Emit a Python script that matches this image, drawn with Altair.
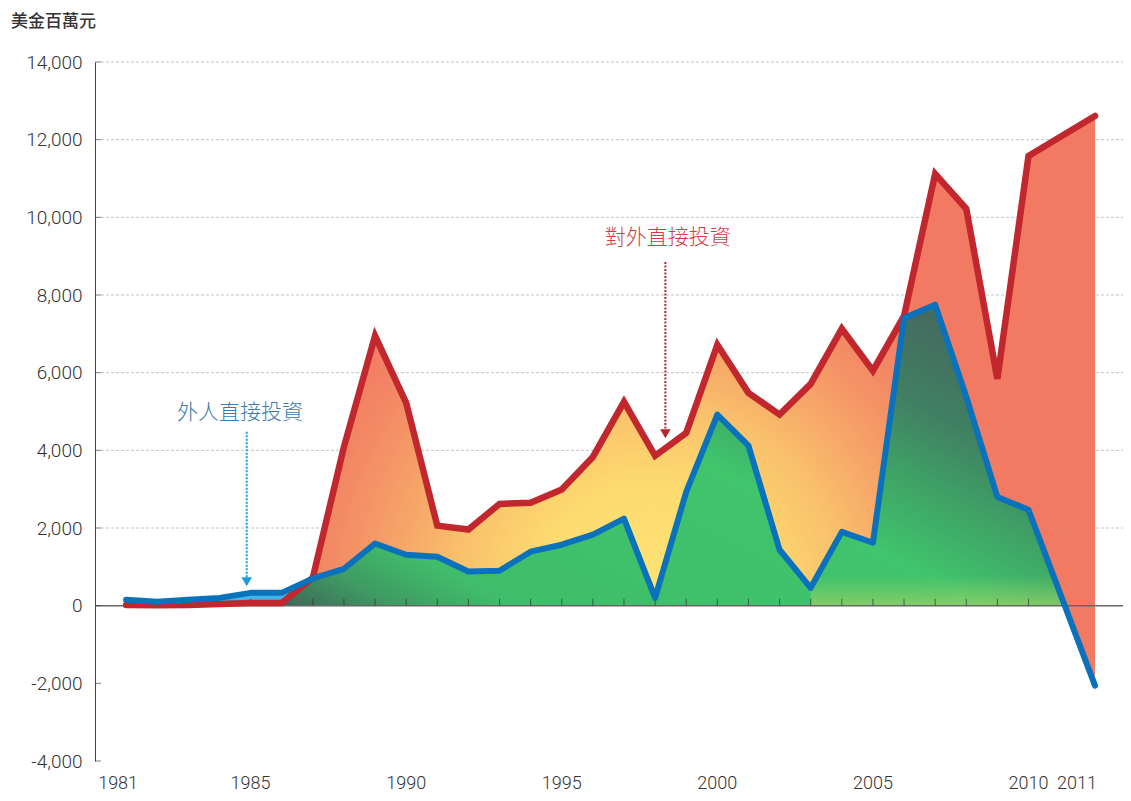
import altair as alt
import pandas as pd

# ---- data (US$ million) ----
years = list(range(1981, 2012))
outward = [20, 10, 20, 40, 70, 70, 720, 4090, 6950, 5220, 2060, 1960, 2620, 2650, 2990,
           3830, 5250, 3860, 4450, 6720, 5480, 4920, 5710, 7130, 6050, 7460, 11120,
           10220, 5840, 11580, 12610]
inward = [150, 100, 150, 200, 330, 330, 700, 950, 1600, 1310, 1260, 880, 900, 1390, 1570,
          1830, 2240, 200, 2930, 4920, 4120, 1440, 460, 1900, 1620, 7410, 7750, 5380,
          2800, 2470, -2060]
y_ticks = [-4000, -2000, 0, 2000, 4000, 6000, 8000, 10000, 12000, 14000]
grid_vals = [2000, 4000, 6000, 8000, 10000, 12000, 14000]
first_year = [1981]
x_label_years = [1985, 1990, 1995, 2000, 2005, 2010]
last_year = [2011]
unit_title = "美金百萬元"
label_in = "外人直接投資"
label_out = "對外直接投資"

CJK = "Noto Sans CJK TC"
NUMF = "Roboto"

df = pd.DataFrame({"year": years, "outward": outward, "inward": inward})
df["low"] = df[["outward", "inward"]].min(axis=1)
df["green_top"] = df["low"].clip(lower=0)
df["zero"] = 0

W, H = 1028, 699
xscale = alt.Scale(domain=[1980, 2010, 2011], range=[0, 933.5, 1000], nice=False, zero=False)
yscale = alt.Scale(domain=[-4000, 14000], nice=False, zero=False)

YAX = alt.Axis(values=y_ticks, grid=False, ticks=False, domain=True, domainColor="#444",
               domainWidth=1, labelFont=NUMF, labelFontWeight=300, labelFontSize=19,
               labelColor="#333", labelPadding=13, title=None,
               labelExpr="(datum.value < 0 ? '-' : '') + format(abs(datum.value), ',')")


def X(field="year"):
    return alt.X(f"{field}:Q", scale=xscale, axis=None)


def Y(field):
    return alt.Y(f"{field}:Q", scale=yscale, axis=YAX)


RED_GRAD = {
    "gradient": "radial",
    "x1": 0.54, "y1": 0.705, "r1": 0,
    "x2": 0.54, "y2": 0.705, "r2": 0.39,
    "stops": [
        {"offset": 0.0, "color": "#fee474"},
        {"offset": 0.3, "color": "#fddb70"},
        {"offset": 0.52, "color": "#f9c06b"},
        {"offset": 0.68, "color": "#f6a468"},
        {"offset": 0.85, "color": "#f38a65"},
        {"offset": 1.0, "color": "#f27a63"},
    ],
}

GREEN_GRAD = {
    "gradient": "linear",
    "x1": 0.1, "y1": 1.0, "x2": 1.1, "y2": 0.4,
    "stops": [
        {"offset": 0.0, "color": "#3a5a52"},
        {"offset": 0.05, "color": "#3d6a58"},
        {"offset": 0.13, "color": "#3f9a62"},
        {"offset": 0.22, "color": "#40bd6a"},
        {"offset": 0.58, "color": "#40c46c"},
        {"offset": 0.7, "color": "#3fa466"},
        {"offset": 0.82, "color": "#408062"},
        {"offset": 1.0, "color": "#466560"},
    ],
}

GLOW_GRAD = {
    "gradient": "linear",
    "x1": 0, "y1": 0, "x2": 0, "y2": 1,
    "stops": [
        {"offset": 0.0, "color": "rgba(170,212,100,0)"},
        {"offset": 0.9, "color": "rgba(170,212,100,0)"},
        {"offset": 1.0, "color": "rgba(175,210,100,0.6)"},
    ],
}

base = alt.Chart(df)

grid = alt.Chart(pd.DataFrame({"v": grid_vals})).mark_rule(
    color="#c4c4c4", strokeDash=[3, 2], strokeWidth=1
).encode(y=Y("v"), x=alt.value(6), x2=alt.value(W))

green = base.mark_area(color=GREEN_GRAD).encode(x=X(), y=Y("green_top"), y2=alt.Y2("zero"))
glow = base.transform_filter("datum.year >= 2003").mark_area(color=GLOW_GRAD).encode(
    x=X(), y=Y("green_top"), y2=alt.Y2("zero"))
cyan = base.mark_area(color="#3fb6e8").encode(x=X(), y=Y("inward"), y2=alt.Y2("low"))
red = base.mark_area(color=RED_GRAD).encode(x=X(), y=Y("outward"), y2=alt.Y2("low"))

zero_df = pd.DataFrame({"v": [0]})
zero_line = alt.Chart(zero_df).mark_rule(color="#666666", strokeWidth=1.5).encode(
    y=Y("v"), x=alt.value(0), x2=alt.value(W)
)

tick_df = pd.DataFrame({"year": years[:-1], "zero": 0})
xticks = alt.Chart(tick_df).mark_tick(orient="vertical", size=7, thickness=1, color="#333",
                                      yOffset=-3.5).encode(x=X(), y=Y("zero"))
last_tick = alt.Chart(pd.DataFrame({"year": last_year, "zero": 0})).mark_tick(
    orient="vertical", size=7, thickness=1, color="#333", yOffset=-3.5, xOffset=-32
).encode(x=X(), y=Y("zero"))

ytick_df = pd.DataFrame({"v": y_ticks})
yticks = alt.Chart(ytick_df).mark_tick(orient="horizontal", size=6, thickness=1, color="#444").encode(
    y=Y("v"), x=alt.value(3)
)

red_line = base.mark_line(color="#c1272d", strokeWidth=6.5, strokeCap="round",
                          strokeJoin="miter").encode(x=X(), y=Y("outward"))
blue_line = base.mark_line(color="#0a72bd", strokeWidth=6, strokeCap="round",
                           strokeJoin="round").encode(x=X(), y=Y("inward"))

# annotations
ann_in = pd.DataFrame({"x": [1984.875], "y0": [4478], "y1": [720], "tip": [617]})
ann_out = pd.DataFrame({"x": [1998.33], "y0": [8853], "y1": [4530], "tip": [4426]})

arrow_in = alt.Chart(ann_in).mark_rule(color="#1b9be0", strokeWidth=2, strokeDash=[2, 1.5]).encode(
    x=X("x"), y=Y("y0"), y2=alt.Y2("y1"))
head_in = alt.Chart(ann_in).mark_point(shape="triangle-down", filled=True, size=110,
                                       color="#1b9be0", opacity=1).encode(x=X("x"), y=Y("tip"))
arrow_out = alt.Chart(ann_out).mark_rule(color="#b5262d", strokeWidth=2, strokeDash=[2, 1.5]).encode(
    x=X("x"), y=Y("y0"), y2=alt.Y2("y1"))
head_out = alt.Chart(ann_out).mark_point(shape="triangle-down", filled=True, size=110,
                                         color="#b5262d", opacity=1).encode(x=X("x"), y=Y("tip"))

txt_in = alt.Chart(pd.DataFrame({"x": [1984.66], "y": [4967], "t": [label_in]})).mark_text(
    font=CJK, fontSize=21, fontWeight=300, color="#3f78ad", align="center", baseline="middle"
).encode(x=X("x"), y=Y("y"), text="t")
txt_out = alt.Chart(pd.DataFrame({"x": [1998.41], "y": [9471], "t": [label_out]})).mark_text(
    font=CJK, fontSize=21, fontWeight=300, color="#d23c44", align="center", baseline="middle"
).encode(x=X("x"), y=Y("y"), text="t")


def year_labels(vals, offset):
    d = pd.DataFrame({"year": vals, "lab": [str(v) for v in vals], "y": -4000})
    return alt.Chart(d).mark_text(
        font=NUMF, fontWeight=300, fontSize=18, color="#333", align="center",
        baseline="bottom", dy=32, xOffset=offset
    ).encode(x=X(), y=Y("y"), text="lab")


xlabels = year_labels(x_label_years, 0)
first_label = year_labels(first_year, -8)
last_label = year_labels(last_year, -18)

title = alt.Chart(pd.DataFrame({"t": [unit_title]})).mark_text(
    font=CJK, fontSize=17, fontWeight=500, color="#333", align="left", baseline="middle"
).encode(text="t", x=alt.value(-84), y=alt.value(-40))

chart = alt.layer(
    grid, green, glow, cyan, red, zero_line, xticks, last_tick, yticks, red_line, blue_line,
    arrow_in, head_in, arrow_out, head_out, txt_in, txt_out, xlabels, first_label,
    last_label, title
).properties(
    width=W, height=H,
    autosize=alt.AutoSizeParams(type="none"),
    padding={"left": 87, "top": 54, "right": 0, "bottom": 32},
).configure_view(stroke=None)

chart.save("out.html", embed_options={"renderer": "svg", "actions": False})
